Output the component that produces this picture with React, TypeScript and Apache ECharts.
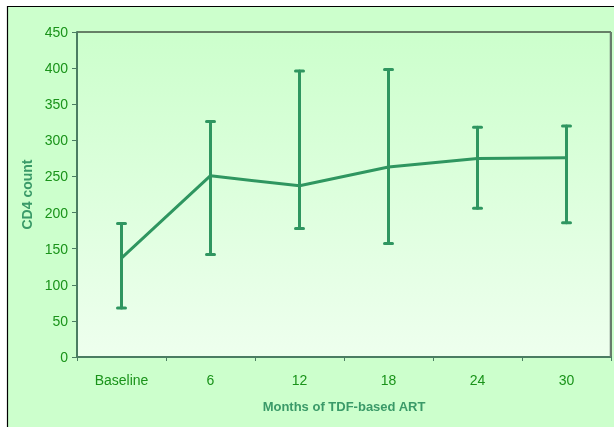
import React, { useEffect, useRef } from "react";
import * as echarts from "echarts";

const categories = ["Baseline", "6", "12", "18", "24", "30"];
const meanValues = [137, 251, 237, 263, 275, 276];
const lowerValues = [68, 142, 178, 157, 206, 186];
const upperValues = [185, 326, 396, 398, 318, 320];
const yTicks = { min: 0, max: 450, interval: 50 };

const LINE = "#2f9660";
const LABEL = "#1a931a";
const TITLE = "#3a9a68";
const AXIS = "#4b7d62";
const FONT = "Liberation Sans, Arial";

export default function App() {
  const ref = useRef<HTMLDivElement>(null);
  useEffect(() => {
    if (!ref.current) return;
    const chart = echarts.init(ref.current, null, { renderer: "svg" });
    const errData = categories.map((_, i) => [i, lowerValues[i], upperValues[i]]);
    chart.setOption({
      animation: false,
      backgroundColor: "transparent",
      graphic: [
        {
          type: "rect",
          z: -10,
          shape: { x: 7.5, y: 6.5, width: 700, height: 500 },
          style: { fill: "#ccffcc", stroke: "#000", lineWidth: 1.2 },
          silent: true,
        },
        {
          type: "rect",
          z: 0,
          shape: { x: 77, y: 32, width: 534, height: 325 },
          style: { fill: "none", stroke: "#000", lineWidth: 1 },
          silent: true,
        },
        {
          type: "line",
          z: 1,
          shape: { x1: 610.5, y1: 32, x2: 610.5, y2: 357 },
          style: { stroke: "#6a7a70", lineWidth: 1.5 },
          silent: true,
        },
      ],
      grid: {
        left: 77,
        top: 32,
        right: 3,
        bottom: 70,
        show: true,
        borderWidth: 0,
        backgroundColor: new echarts.graphic.LinearGradient(0, 0, 0, 1, [
          { offset: 0, color: "#ccffcc" },
          { offset: 1, color: "#eeffee" },
        ]),
      },
      xAxis: {
        type: "category",
        data: categories,
        boundaryGap: true,
        axisLine: { lineStyle: { color: AXIS, width: 2 } },
        axisTick: { show: true, alignWithLabel: false, length: 4, lineStyle: { color: AXIS, width: 1 } },
        axisLabel: { color: LABEL, fontFamily: FONT, fontSize: 14, margin: 16 },
        name: "Months of TDF-based ART",
        nameLocation: "middle",
        nameGap: 43,
        nameTextStyle: { color: TITLE, fontFamily: FONT, fontSize: 13, fontWeight: "bold" },
        splitLine: { show: false },
      },
      yAxis: {
        type: "value",
        min: yTicks.min,
        max: yTicks.max,
        interval: yTicks.interval,
        axisLine: { show: true, lineStyle: { color: AXIS, width: 2 } },
        axisTick: { show: true, length: 5, lineStyle: { color: AXIS, width: 1 } },
        axisLabel: { color: LABEL, fontFamily: FONT, fontSize: 14, margin: 9 },
        splitLine: { show: false },
        name: "CD4 count",
        nameLocation: "middle",
        nameGap: 40,
        nameRotate: 90,
        nameTextStyle: { color: TITLE, fontFamily: FONT, fontSize: 14, fontWeight: "bold" },
      },
      series: [
        {
          type: "custom",
          z: 3,
          data: errData,
          renderItem: (params: any, api: any) => {
            const x = api.value(0);
            const lo = api.coord([x, api.value(1)]);
            const hi = api.coord([x, api.value(2)]);
            const hw = 4;
            const style = { stroke: LINE, lineWidth: 3, lineCap: "round" };
            return {
              type: "group",
              children: [
                { type: "line", shape: { x1: lo[0], y1: lo[1], x2: hi[0], y2: hi[1] }, style },
                { type: "line", shape: { x1: lo[0] - hw, y1: lo[1], x2: lo[0] + hw, y2: lo[1] }, style },
                { type: "line", shape: { x1: hi[0] - hw, y1: hi[1], x2: hi[0] + hw, y2: hi[1] }, style },
              ],
            };
          },
        },
        {
          type: "line",
          z: 4,
          data: meanValues,
          symbol: "none",
          lineStyle: { color: LINE, width: 3 },
        },
      ],
    });
    return () => chart.dispose();
  }, []);
  return (
    <div
      ref={ref}
      style={{ position: "fixed", left: 0, top: 0, width: 614, height: 427 }}
    />
  );
}
